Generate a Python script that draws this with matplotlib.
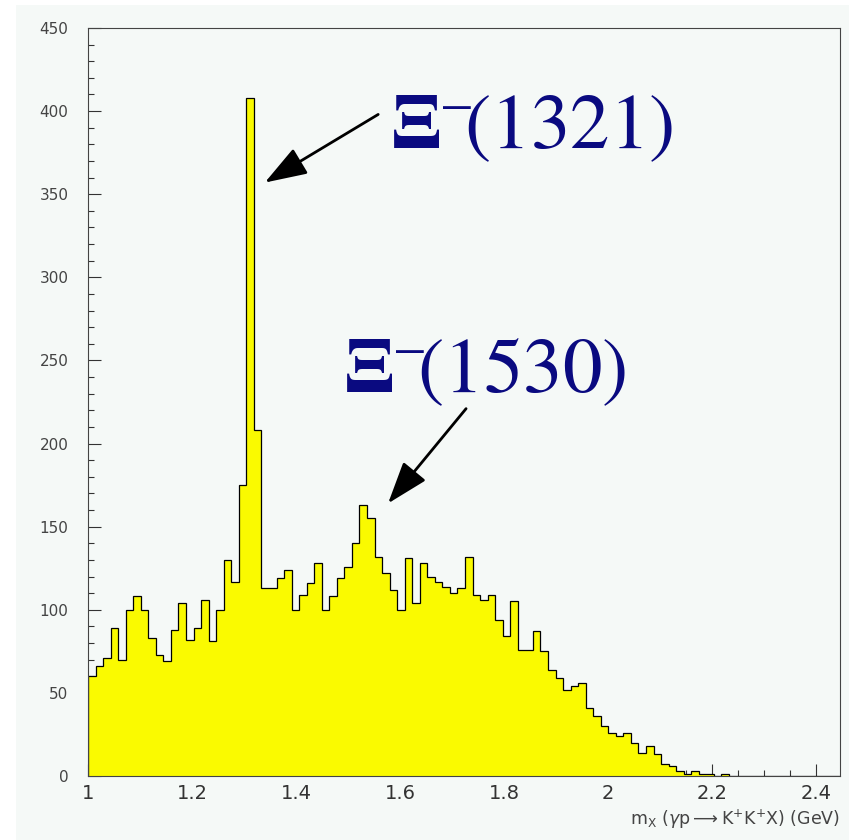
import numpy as np
import matplotlib
matplotlib.use("Agg")
import matplotlib.pyplot as plt
from matplotlib.patches import Rectangle
from matplotlib.ticker import MultipleLocator, FuncFormatter

# missing-mass histogram, 100 bins from 1.0 to 2.45 GeV
lo, hi, nbins = 1.0, 2.45, 100
counts = [60, 66, 71, 89, 70, 100, 108, 100, 83, 73,
          69, 88, 104, 82, 89, 106, 81, 100, 130, 117,
          175, 408, 208, 113, 113, 119, 124, 100, 109, 116,
          128, 100, 108, 119, 126, 140, 163, 155, 132, 122,
          112, 100, 131, 104, 128, 120, 117, 114, 110, 113,
          132, 109, 106, 109, 94, 84, 105, 76, 76, 87,
          75, 64, 59, 52, 54, 56, 41, 36, 30, 26,
          24, 26, 20, 14, 18, 13, 7, 6, 3, 1,
          3, 1, 1, 0, 1]
counts = counts + [0] * (nbins - len(counts))
edges = np.linspace(lo, hi, nbins + 1)

labels = [r"$\mathbf{\Xi}^{\mathrm{–}}\!\mathrm{(1321)}$", r"$\mathbf{\Xi}^{\mathrm{–}}\!\mathrm{(1530)}$"]
label_xy = [(1.581, 378), (1.490, 231)]
arrow_tail = [(1.558, 398), (1.727, 221)]
arrow_head = [(1.340, 357), (1.577, 164)]

BG = "#f5f9f7"; YEL = "#fafa00"; NAVY = "#0a0a80"
plt.rcParams["mathtext.fontset"] = "stix"

fig = plt.figure(figsize=(8.49, 8.40), dpi=100)
fig.patch.set_facecolor("white")
fig.add_artist(Rectangle((16/849, 0), 1, 1 - 5/840, transform=fig.transFigure,
                         facecolor=BG, edgecolor="none", zorder=-10))
ax = fig.add_axes([88/849, 1 - 776/840, (840-88)/849, (776-28)/840])
ax.set_facecolor(BG)

ax.stairs(counts, edges, fill=True, color=YEL, zorder=2)
ax.stairs(counts, edges, color="black", lw=0.9, zorder=3)

ax.set_xlim(lo, 2.446); ax.set_ylim(0, 450)
ax.xaxis.set_major_locator(MultipleLocator(0.2)); ax.xaxis.set_minor_locator(MultipleLocator(0.05))
ax.yaxis.set_major_locator(MultipleLocator(50)); ax.yaxis.set_minor_locator(MultipleLocator(10))
ax.xaxis.set_major_formatter(FuncFormatter(lambda v, p: f"{v:g}"))
ax.tick_params(which="both", direction="in", color="#333333", width=0.8)
ax.tick_params(which="major", length=9)
ax.tick_params(which="minor", length=4)
ax.tick_params(axis="x", labelsize=14, labelcolor="#333333", pad=6)
ax.tick_params(axis="y", labelsize=11, labelcolor="#444444", pad=14)
for s in ax.spines.values():
    s.set_color("#444444"); s.set_linewidth(0.8); s.set_zorder(4)

for txt, (tx, ty), t0, t1 in zip(labels, label_xy, arrow_tail, arrow_head):
    ax.text(tx, ty, txt, fontsize=57, color=NAVY, ha="left", va="baseline", zorder=5)
    ax.annotate("", xy=t1, xytext=t0,
                arrowprops=dict(arrowstyle="-|>,head_length=1.3,head_width=0.45",
                                mutation_scale=20, color="black", lw=2, shrinkA=0, shrinkB=0),
                zorder=5)

fig.text(840/849, 1 - 819/840, r"m$_{\mathrm{X}}$ ($\gamma$p$\longrightarrow$K$^{+}$K$^{+}$X) (GeV)",
         ha="right", va="center", fontsize=12.5, color="#444444", math_fontfamily="dejavusans")

fig.savefig("out.png", dpi=100, facecolor=fig.get_facecolor())
